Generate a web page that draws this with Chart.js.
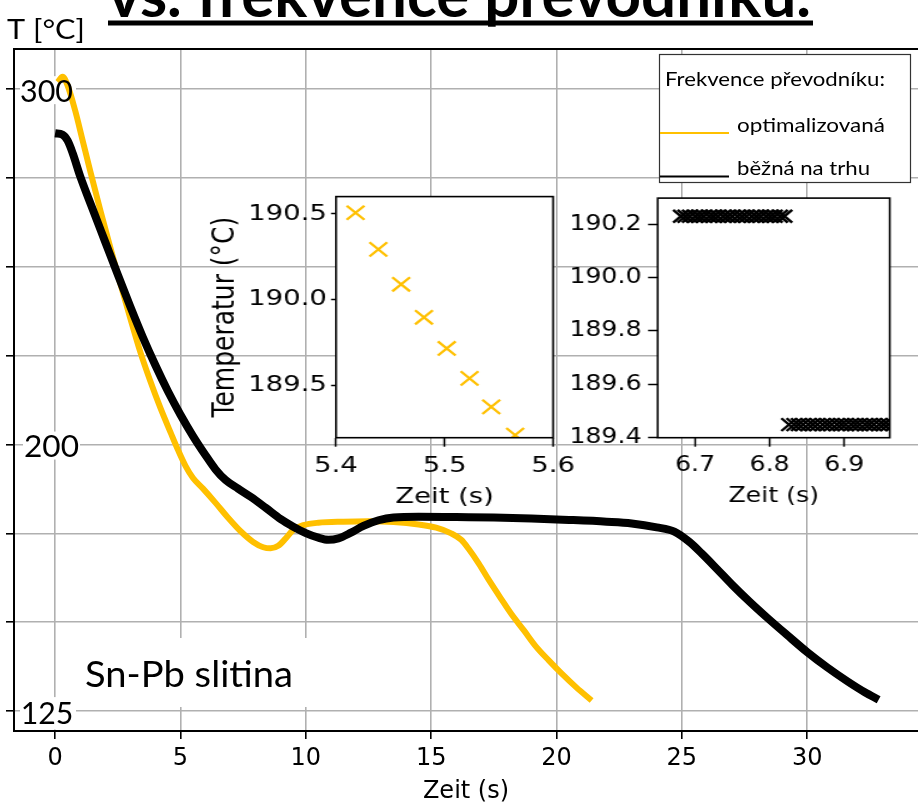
<!DOCTYPE html>
<html>
<head>
<meta charset="utf-8">
<title>Sn-Pb slitina – frekvence převodníku</title>
<script src="https://cdn.jsdelivr.net/npm/chart.js@4.4.1/dist/chart.umd.min.js"></script>
<style>
  html, body { margin: 0; padding: 0; background: #fff; }
  #wrap { position: relative; width: 918px; height: 805px; overflow: hidden; }
  canvas { position: absolute; }
  #main { left: 0; top: 0; }
  /* the zoom panels are stretched sideways like the pasted figures they stand for */
  #inA { left: 205px; top: 180px; transform-origin: 0 0; transform: scaleX(1.25); }
  #inB { left: 565px; top: 180px; transform-origin: 0 0; transform: scaleX(1.2); }
</style>
</head>
<body>
<div id="wrap">
  <canvas id="main" width="918" height="805"></canvas>
  <canvas id="inA" width="302" height="335"></canvas>
  <canvas id="inB" width="282" height="335"></canvas>
</div>
<script>
// ---- cooling curves: time (s) / temperature (°C) ----
const optimTime = [0.1, 0.3, 0.5, 0.8, 1.1, 1.4, 1.8, 2.2, 2.6, 3.0, 3.4, 3.8, 4.2, 4.6, 4.9, 5.2, 5.5, 5.9, 6.4, 6.9, 7.4, 7.9, 8.3, 8.6, 8.9, 9.2, 9.5, 9.9, 10.5, 11.5, 12.5, 13.5, 14.5, 15.2, 15.8, 16.2, 16.5, 16.9, 17.3, 17.8, 18.2, 18.7, 19.2, 19.7, 20.2, 20.8, 21.4];
const optimTemp = [302.0, 303.5, 301.0, 294.0, 285.5, 277.0, 266.0, 255.5, 245.3, 235.5, 226.0, 217.8, 210.3, 203.5, 198.5, 194.0, 190.6, 187.6, 183.6, 179.4, 175.6, 172.6, 171.1, 170.8, 171.5, 173.6, 176.0, 177.3, 178.0, 178.3, 178.4, 178.2, 177.5, 176.6, 175.0, 173.2, 170.6, 166.5, 161.9, 156.5, 152.3, 147.7, 143.0, 139.2, 135.6, 131.6, 128.0];

const marketTime = [0.0, 0.3, 0.5, 0.7, 1.0, 1.5, 2.0, 2.5, 3.0, 3.5, 4.0, 4.5, 5.0, 5.5, 6.0, 6.4, 6.8, 7.3, 7.8, 8.4, 9.0, 9.5, 10.0, 10.5, 10.9, 11.3, 11.8, 12.3, 12.9, 13.5, 14.5, 16.0, 17.5, 19.0, 20.5, 22.0, 23.0, 24.0, 24.7, 25.3, 25.8, 26.4, 27.0, 27.7, 28.4, 29.2, 30.0, 30.8, 31.6, 32.3, 32.85];
const marketTemp = [287.6, 287.2, 285.5, 282.0, 275.5, 266.2, 257.0, 247.8, 238.8, 230.2, 222.3, 215.0, 208.4, 202.4, 197.0, 193.0, 190.0, 187.6, 185.3, 182.2, 179.0, 176.9, 175.1, 173.8, 173.2, 173.6, 175.2, 177.1, 178.7, 179.5, 179.7, 179.6, 179.5, 179.2, 178.8, 178.3, 177.8, 176.7, 175.5, 172.6, 169.3, 165.0, 160.6, 155.8, 151.3, 146.4, 141.6, 137.3, 133.4, 130.3, 128.2];

const mainXTicks = [0, 5, 10, 15, 20, 25, 30];
const mainYTicks = [125, 150, 175, 200, 225, 250, 275, 300];
const mainYLabels = [300, 200, 125];

// ---- zoom A: optimised converter, individual samples ----
const zoomATime = [5.418, 5.439, 5.460, 5.481, 5.502, 5.523, 5.543, 5.565];
const zoomATemp = [190.506, 190.293, 190.090, 189.898, 189.717, 189.543, 189.377, 189.213];
const zoomAXTicks = [5.4, 5.5, 5.6];
const zoomAYTicks = [189.5, 190.0, 190.5];

// ---- zoom B: common converter, samples sit on two quantisation levels ----
const zoomBUpperTime = [6.681, 6.687, 6.693, 6.700, 6.706, 6.712, 6.719, 6.725, 6.731, 6.738, 6.744, 6.750, 6.757, 6.763, 6.769, 6.776, 6.782, 6.788, 6.795, 6.801, 6.807, 6.814, 6.820];
const zoomBUpperLevel = 190.23;
const zoomBLowerTime = [6.826, 6.833, 6.839, 6.845, 6.852, 6.858, 6.864, 6.871, 6.877, 6.883, 6.890, 6.896, 6.902, 6.909, 6.915, 6.921, 6.928, 6.934, 6.940, 6.947, 6.953, 6.959, 6.966];
const zoomBLowerLevel = 189.449;
const zoomBXTicks = [6.7, 6.8, 6.9];
const zoomBYTicks = [189.4, 189.6, 189.8, 190.0, 190.2];

const GOLD = '#FFC000';
const GRID = '#b0b0b0';
const AXIS_FONT = "'DejaVu Sans', sans-serif";
const TEXT_FONT = "Lato, 'Open Sans', sans-serif";

const pts = (xs, ys) => xs.map((x, i) => ({ x: x, y: ys[i] }));
const level = (xs, y) => xs.map(x => ({ x: x, y: y }));
const fixTicks = list => (scale => { scale.ticks = list.map(v => ({ value: v })); });

// draws text stretched/compressed to a given width, left edge at x
function fitText(ctx, text, x, baseline, font, width, color) {
  ctx.save();
  ctx.font = font;
  ctx.fillStyle = color || '#000';
  ctx.textAlign = 'left';
  ctx.textBaseline = 'alphabetic';
  const w = ctx.measureText(text).width;
  ctx.translate(x, baseline);
  ctx.scale(width / w, 1);
  ctx.fillText(text, 0, 0);
  ctx.restore();
}

// ---- decorations of the main plot ----
const mainDecor = {
  id: 'mainDecor',
  beforeDraw(chart) {
    const ctx = chart.ctx;
    ctx.save();
    ctx.fillStyle = '#fff';
    ctx.fillRect(0, 0, chart.width, chart.height);
    ctx.restore();
  },
  beforeDatasetsDraw(chart) {
    // white patches under the in-plot labels
    const ctx = chart.ctx, ys = chart.scales.y;
    ctx.save();
    ctx.fillStyle = '#fff';
    const p300 = ys.getPixelForValue(300), p200 = ys.getPixelForValue(200), p125 = ys.getPixelForValue(125);
    ctx.fillRect(20, p300 - 13, 56, 28);
    ctx.fillRect(23, p200 - 13, 57, 28);
    ctx.fillRect(20, p125 - 14, 56, chart.chartArea.bottom - 1.5 - (p125 - 14));
    ctx.fillRect(74, 638, 238, 69);
    ctx.restore();
  },
  afterDatasetsDraw(chart) {
    const ctx = chart.ctx, area = chart.chartArea, ys = chart.scales.y;

    // top spine
    ctx.save();
    ctx.strokeStyle = '#000';
    ctx.lineWidth = 2;
    ctx.beginPath();
    ctx.moveTo(area.left, area.top);
    ctx.lineTo(area.right, area.top);
    ctx.stroke();
    ctx.restore();

    // temperature labels inside the plot
    const lab = { 300: [20, 53], 200: [24, 55], 125: [20.7, 52.6] };
    mainYLabels.forEach(v => {
      const [lx, lw] = lab[v];
      fitText(ctx, String(v), lx, ys.getPixelForValue(v) + 12.5, '31px ' + TEXT_FONT, lw);
    });

    fitText(ctx, 'Sn-Pb slitina', 85, 687, '37px ' + TEXT_FONT, 208);

    // legend box
    ctx.save();
    ctx.fillStyle = '#fff';
    ctx.fillRect(659, 54, 252, 129);
    ctx.strokeStyle = '#333';
    ctx.lineWidth = 1.2;
    ctx.strokeRect(659.5, 54.5, 251, 128);
    ctx.lineWidth = 2.2;
    ctx.strokeStyle = GOLD;
    ctx.beginPath(); ctx.moveTo(660, 133); ctx.lineTo(729, 133); ctx.stroke();
    ctx.strokeStyle = '#000';
    ctx.beginPath(); ctx.moveTo(660, 176.5); ctx.lineTo(729, 176.5); ctx.stroke();
    ctx.restore();
    fitText(ctx, 'Frekvence převodníku:', 665, 86, '18.5px ' + TEXT_FONT, 220);
    fitText(ctx, 'optimalizovaná', 737, 131.5, '19px ' + TEXT_FONT, 148);
    fitText(ctx, 'běžná na trhu', 737, 175, '19px ' + TEXT_FONT, 133);

    // heading above the plot
    fitText(ctx, 'vs. frekvence převodníku.', 108, 17, 'bold 62px ' + TEXT_FONT, 703);
    ctx.save();
    ctx.fillStyle = '#000';
    ctx.fillRect(108, 20.5, 705, 5);
    ctx.restore();
    fitText(ctx, 'T [°C]', 7, 38.5, '26px ' + TEXT_FONT, 78);
  }
};

new Chart(document.getElementById('main'), {
  type: 'line',
  data: {
    datasets: [
      {
        label: 'běžná na trhu',
        data: pts(marketTime, marketTemp),
        borderColor: '#000',
        borderWidth: 8,
        pointRadius: 0,
        cubicInterpolationMode: 'monotone',
        borderJoinStyle: 'round',
        fill: false,
        order: 0,
        clip: 0
      },
      {
        label: 'optimalizovaná',
        data: pts(optimTime, optimTemp),
        borderColor: GOLD,
        borderWidth: 6,
        pointRadius: 0,
        cubicInterpolationMode: 'monotone',
        borderJoinStyle: 'round',
        fill: false,
        order: 1,
        clip: 0
      }
    ]
  },
  options: {
    responsive: false,
    devicePixelRatio: 1,
    animation: false,
    events: [],
    layout: { padding: { top: 49, left: 0, right: 0, bottom: 0 } },
    plugins: { legend: { display: false }, tooltip: { enabled: false } },
    scales: {
      x: {
        type: 'linear',
        min: -1.64,
        max: 34.42,
        afterBuildTicks: fixTicks(mainXTicks),
        afterFit: s => { s.height = 74; },
        grid: { color: GRID, lineWidth: 1.6, tickLength: 8, tickColor: '#000', tickWidth: 1.6 },
        border: { color: '#000', width: 2 },
        ticks: {
          autoSkip: false, maxRotation: 0, padding: 5, color: '#000',
          font: { family: AXIS_FONT, size: 24 },
          callback: v => String(v)
        },
        title: {
          display: true, text: 'Zeit (s)', color: '#000', padding: 0,
          font: { family: AXIS_FONT, size: 24, lineHeight: 1.1 }
        }
      },
      y: {
        type: 'linear',
        min: 119.4,
        max: 311.3,
        afterBuildTicks: fixTicks(mainYTicks),
        afterFit: s => { s.width = 14; },
        grid: { color: GRID, lineWidth: 1.6, tickLength: 8, tickColor: '#000', tickWidth: 1.6 },
        border: { color: '#000', width: 2 },
        ticks: { autoSkip: false, padding: 0, font: { size: 1 }, callback: () => '' }
      }
    }
  },
  plugins: [mainDecor]
});

// ---- zoom panels ----
const panelFrame = {
  id: 'panelFrame',
  beforeDraw(chart) {
    const ctx = chart.ctx, a = chart.chartArea;
    ctx.save();
    ctx.fillStyle = '#fff';
    ctx.fillRect(a.left, a.top, a.right - a.left, a.bottom - a.top);
    ctx.restore();
  },
  afterDatasetsDraw(chart) {
    const ctx = chart.ctx, a = chart.chartArea;
    ctx.save();
    ctx.strokeStyle = '#000';
    ctx.lineWidth = 1.6;
    ctx.strokeRect(a.left, a.top, a.right - a.left, a.bottom - a.top);
    ctx.restore();
  }
};

function panel(canvasId, cfg) {
  const tickFont = { family: AXIS_FONT, size: cfg.fontSize };
  return new Chart(document.getElementById(canvasId), {
    type: 'scatter',
    data: { datasets: cfg.datasets },
    options: {
      responsive: false,
      devicePixelRatio: 1,
      animation: false,
      events: [],
      layout: { padding: { top: cfg.padTop, left: 0, right: cfg.padRight, bottom: 0 } },
      plugins: { legend: { display: false }, tooltip: { enabled: false } },
      scales: {
        x: {
          type: 'linear', min: cfg.xMin, max: cfg.xMax,
          afterBuildTicks: fixTicks(cfg.xTicks),
          afterFit: s => { s.height = cfg.xAxisHeight; },
          grid: { display: true, drawOnChartArea: false, drawTicks: true, tickLength: 9, tickColor: '#000', tickWidth: 1.5 },
          border: { display: false },
          ticks: { autoSkip: false, maxRotation: 0, padding: cfg.xPad, color: '#000', font: tickFont, callback: v => v.toFixed(1) },
          title: { display: true, text: 'Zeit (s)', color: '#000', padding: cfg.xTitlePad, font: tickFont }
        },
        y: {
          type: 'linear', min: cfg.yMin, max: cfg.yMax,
          afterBuildTicks: fixTicks(cfg.yTicks),
          afterFit: s => { s.width = cfg.yAxisWidth; },
          grid: { display: true, drawOnChartArea: false, drawTicks: true, tickLength: cfg.yTickLen, tickColor: '#000', tickWidth: 1.5 },
          border: { display: false },
          ticks: { autoSkip: false, padding: cfg.yPad, color: '#000', font: tickFont, callback: v => v.toFixed(1) },
          title: {
            display: cfg.yTitle !== '', text: cfg.yTitle, color: '#000', padding: cfg.yTitlePad,
            font: { family: AXIS_FONT, size: cfg.yTitleSize }
          }
        }
      }
    },
    plugins: [panelFrame]
  });
}

panel('inA', {
  fontSize: 22,
  padTop: 10, padRight: 10.6,
  xMin: 5.4, xMax: 5.6, xTicks: zoomAXTicks,
  yMin: 189.198, yMax: 190.6, yTicks: zoomAYTicks,
  xAxisHeight: 77.3, yAxisWidth: 104.8,
  xPad: 6, xTitlePad: 4.8, yPad: 3.4, yTickLen: 4,
  yTitle: 'Temperatur (°C)', yTitlePad: 1, yTitleSize: 25,
  datasets: [{
    label: 'optimalizovaná',
    data: pts(zoomATime, zoomATemp),
    pointStyle: 'crossRot', pointRadius: 10,
    borderColor: GOLD, backgroundColor: GOLD, borderWidth: 2.2,
    showLine: false, clip: 0
  }]
});

panel('inB', {
  fontSize: 21,
  padTop: 10.7, padRight: 10.35,
  xMin: 6.650, xMax: 6.961, xTicks: zoomBXTicks,
  yMin: 189.4, yMax: 190.298, yTicks: zoomBYTicks,
  xAxisHeight: 77.3, yAxisWidth: 77.25,
  xPad: 6.5, xTitlePad: 5.4, yPad: 5.5, yTickLen: 8,
  yTitle: '', yTitlePad: 0, yTitleSize: 21,
  datasets: [
    {
      label: 'běžná na trhu',
      data: level(zoomBUpperTime, zoomBUpperLevel),
      pointStyle: 'crossRot', pointRadius: 9,
      borderColor: '#000', backgroundColor: '#000', borderWidth: 2.4,
      showLine: false, clip: 0
    },
    {
      label: 'běžná na trhu ',
      data: level(zoomBLowerTime, zoomBLowerLevel),
      pointStyle: 'crossRot', pointRadius: 9,
      borderColor: '#000', backgroundColor: '#000', borderWidth: 2.4,
      showLine: false, clip: 0
    }
  ]
});
</script>
</body>
</html>
